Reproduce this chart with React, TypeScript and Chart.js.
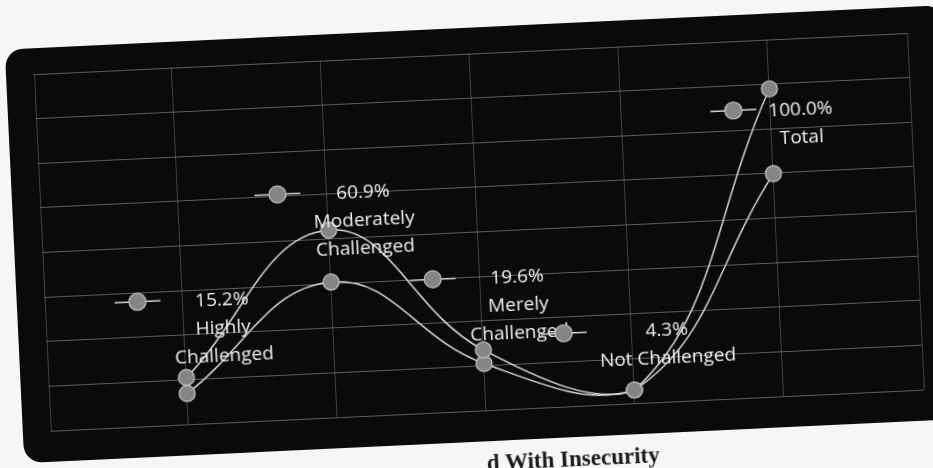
import React, { useEffect, useRef } from "react";
import { Chart, registerables } from "chart.js";

Chart.register(...registerables);

// ---- data ----
const categories = ["Highly Challenged", "Moderately Challenged", "Merely Challenged", "Not Challenged", "Total"];
const categoryLines = [["Highly", "Challenged"], ["Moderately", "Challenged"], ["Merely", "Challenged"], ["Not Challenged"], ["Total"]];
const percentValues = [15.2, 60.9, 19.6, 4.3, 100.0];
const secondValues = [10.0, 44.0, 15.2, 4.3, 72.4];

// ---- axis config ----
const Y_MAX = 116;
const Y_GRID_STEP = 14.5;
const X_MIN = 0.074;
const X_MAX = 5.94;

// label placement relative to each upper point (manually placed labels)
const labelOffsets = [
  { dx: 39, dy: -76 },
  { dx: 36, dy: -36 },
  { dx: 37, dy: -71 },
  { dx: 35, dy: -58 },
  { dx: 30, dy: 22 },
];

const LINE_COLOR = "#d6d6d6";
const MARKER_FILL = "#858585";
const MARKER_BORDER = "#c4c4c4";

const labelPlugin = {
  id: "excelLabels",
  afterDatasetsDraw(chart: any) {
    const ctx = chart.ctx;
    const meta = chart.getDatasetMeta(0);
    ctx.save();
    ctx.font = '19px "Open Sans"';
    ctx.textAlign = "center";
    ctx.textBaseline = "middle";
    meta.data.forEach((pt: any, i: number) => {
      const off = labelOffsets[i];
      const lines = [percentValues[i].toFixed(1) + "%", ...categoryLines[i]];
      const cx = pt.x + off.dx;
      const y0 = pt.y + off.dy;
      let maxW = 0;
      lines.forEach((t, k) => {
        ctx.fillStyle = "#efefef";
        ctx.fillText(t, cx, y0 + k * 28);
        maxW = Math.max(maxW, ctx.measureText(t).width);
      });
      const kx = cx - maxW / 2 - 35;
      const ky = y0 - 2;
      ctx.strokeStyle = LINE_COLOR;
      ctx.lineWidth = 1.5;
      ctx.beginPath();
      ctx.moveTo(kx - 23, ky);
      ctx.lineTo(kx + 23, ky);
      ctx.stroke();
      ctx.beginPath();
      ctx.arc(kx, ky, 8.5, 0, Math.PI * 2);
      ctx.fillStyle = MARKER_FILL;
      ctx.fill();
      ctx.strokeStyle = MARKER_BORDER;
      ctx.lineWidth = 1.2;
      ctx.stroke();
    });
    ctx.restore();
  },
};

function ChartCanvas() {
  const ref = useRef<HTMLCanvasElement | null>(null);
  useEffect(() => {
    if (!ref.current) return;
    const mk = (vals: number[]) => vals.map((v, i) => ({ x: i + 1, y: v }));
    const ds = (label: string, vals: number[]) => ({
      label,
      data: mk(vals),
      borderColor: LINE_COLOR,
      borderWidth: 1.5,
      tension: 0.42,
      pointRadius: 8,
      pointBackgroundColor: MARKER_FILL,
      pointBorderColor: MARKER_BORDER,
      pointBorderWidth: 1.2,
      clip: false as any,
      fill: false,
    });
    const chart = new Chart(ref.current, {
      type: "line",
      data: {
        labels: categories,
        datasets: [ds("Percentage", percentValues), ds("Series 2", secondValues)],
      },
      options: {
        responsive: false,
        animation: false,
        devicePixelRatio: 1,
        layout: { padding: { left: 42, top: 54, right: 17, bottom: 57 } },
        plugins: { legend: { display: false }, tooltip: { enabled: false } },
        scales: {
          x: {
            type: "linear",
            min: X_MIN,
            max: X_MAX,
            afterBuildTicks: (s: any) => {
              s.ticks = [X_MIN, 1, 2, 3, 4, 5, X_MAX].map((v) => ({ value: v }));
            },
            ticks: { display: false },
            border: { display: false },
            grid: { color: "rgba(190,190,190,0.3)", lineWidth: 1, drawTicks: false },
          },
          y: {
            type: "linear",
            min: 0,
            max: Y_MAX,
            afterBuildTicks: (s: any) => {
              const t = [];
              for (let v = 0; v <= Y_MAX + 0.01; v += Y_GRID_STEP) t.push({ value: v });
              s.ticks = t;
            },
            ticks: { display: false },
            border: { display: false },
            grid: { color: "rgba(205,205,205,0.42)", lineWidth: 1, drawTicks: false },
          },
        },
      },
      plugins: [labelPlugin],
    });
    return () => chart.destroy();
  }, []);
  return <canvas ref={ref} width={933} height={468} style={{ position: "absolute", left: 0, top: 0, width: 933, height: 468 }} />;
}

export default function App() {
  return (
    <div style={{ position: "fixed", left: 0, top: 0, width: 933, height: 468, overflow: "hidden", background: "#f6f6f5" }}>
      <div
        style={{
          position: "absolute",
          left: 0,
          top: 0,
          width: 933,
          height: 468,
          transform: "rotate(-2.7deg)",
          transformOrigin: "466px 234px",
        }}
      >
        <div
          style={{
            position: "absolute",
            left: 14,
            top: 28,
            width: 940,
            height: 414,
            borderRadius: 18,
            background: "#0a0a0a",
          }}
        />
        <ChartCanvas />
        <div
          style={{
            position: "absolute",
            left: 476,
            top: 452,
            font: 'bold 23px "Liberation Serif", serif',
            lineHeight: "23px",
            color: "#1c1c1c",
            whiteSpace: "nowrap",
          }}
        >
          d With Insecurity
        </div>
      </div>
    </div>
  );
}
